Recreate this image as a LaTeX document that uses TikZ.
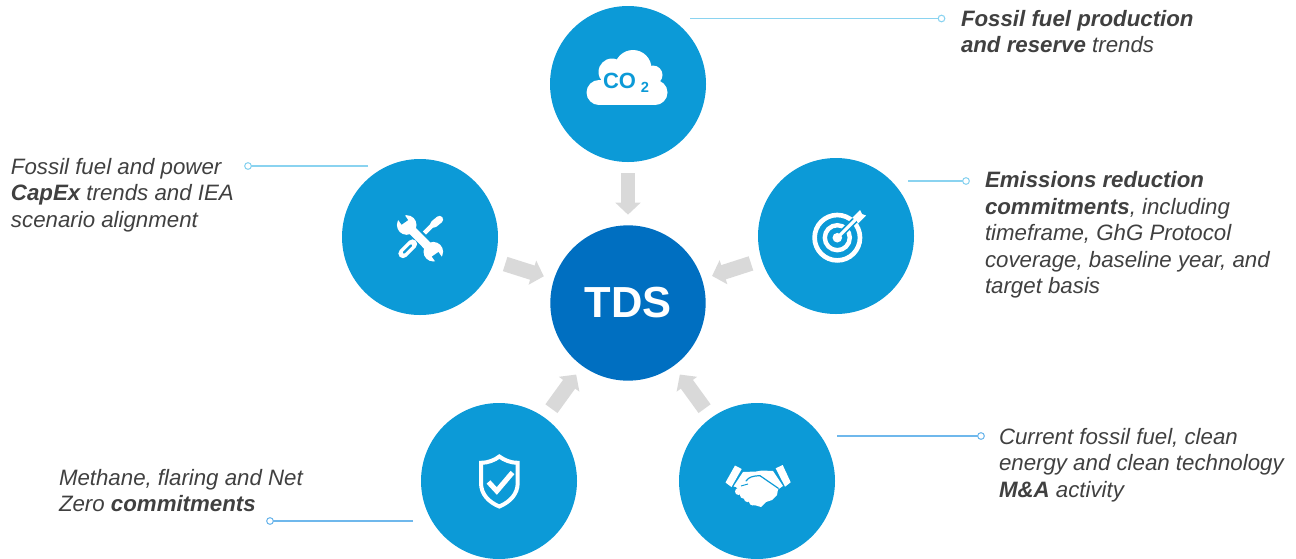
\documentclass[tikz,border=0pt]{standalone}
\usepackage{fontspec}
\setmainfont{Liberation Sans}
\usetikzlibrary{arrows.meta}
\definecolor{hubblue}{HTML}{006FC1}
\definecolor{satblue}{HTML}{0C9AD7}
\definecolor{arrowgrey}{HTML}{D9D9D9}
\definecolor{labelgrey}{HTML}{404040}
\definecolor{leadA}{HTML}{8AD3F0}
\definecolor{leadB}{HTML}{6FB8EC}
\newcommand{\bi}[1]{\textbf{#1}}
\tikzset{
  sat/.style={circle,fill=satblue,minimum size=117pt,inner sep=0pt,outer sep=0pt},
  hub/.style={circle,fill=hubblue,minimum size=116.5pt,inner sep=0pt,outer sep=0pt,text=white,
     font=\fontsize{32.6pt}{36pt}\selectfont\bfseries},
  feed/.style={arrowgrey,line width=11.2pt,-{Triangle[length=9pt,width=18.5pt]},shorten >=8pt,shorten <=8.5pt},
  lab/.style={anchor=north west,inner sep=0pt,outer sep=0pt,align=left,text=labelgrey,
     font=\fontsize{16.7pt}{19.9pt}\selectfont\itshape},
  dot/.style={circle,draw=#1,fill=white,line width=0.8pt,minimum size=5pt,inner sep=0pt,outer sep=0pt},
  lead/.style={draw=#1,line width=0.8pt},
  icol/.style={draw=white,line cap=round,line join=round},
}
\begin{document}
\begin{tikzpicture}[x=0.75pt,y=-0.75pt]
\useasboundingbox (0,0) rectangle (1296,558);
% circles
\node[hub] (tds) at (628,303) {TDS};
\node[sat] (top) at (628,84) {};
\node[sat] (lft) at (420,237) {};
\node[sat] (rgt) at (836,236) {};
\node[sat] (bl) at (499,481) {};
\node[sat] (br) at (757,481) {};
% feed arrows
\draw[feed] (top) -- (tds);
\draw[feed] (lft) -- (tds);
\draw[feed] (rgt) -- (tds);
\draw[feed] (bl) -- (tds);
\draw[feed] (br) -- (tds);
% leaders
\coordinate (ltop) at (690,18.5);
\node[dot=leadA] (dtop) at (941.5,18.5) {};
\draw[lead=leadA] (ltop) -- (dtop);
\coordinate (llft) at (368,166);
\node[dot=leadA] (dlft) at (248,166) {};
\draw[lead=leadA] (llft) -- (dlft);
\coordinate (lrgt) at (908,181);
\node[dot=leadA] (drgt) at (966,181) {};
\draw[lead=leadA] (lrgt) -- (drgt);
\coordinate (lbl) at (413,521);
\node[dot=leadB] (dbl) at (270,521) {};
\draw[lead=leadB] (lbl) -- (dbl);
\coordinate (lbr) at (837,436);
\node[dot=leadB] (dbr) at (981,436) {};
\draw[lead=leadB] (lbr) -- (dbr);
% labels
\node[lab] (ttop) at (961,7.5) {\strut\bi{Fossil fuel production}\\\bi{and reserve} trends};
\node[lab] (tlft) at (11,155.5) {\strut Fossil fuel and power\\\bi{CapEx} trends and IEA\\scenario alignment};
\node[lab] (trgt) at (985,169) {\strut\bi{Emissions reduction}\\\bi{commitments}, including\\timeframe, GhG Protocol\\coverage, baseline year, and\\target basis};
\node[lab] (tbl) at (59,466.5) {\strut Methane, flaring and Net\\Zero \bi{commitments}};
\node[lab] (tbr) at (999,425.5) {\strut Current fossil fuel, clean\\energy and clean technology\\\bi{M\&A} activity};
% cloud icon
\fill[white] (612,72) circle (13.5);
\fill[white] (633,68.5) circle (18.5);
\fill[white] (653,75) circle (9.5);
\fill[white] (655,92.5) circle (12.5);
\fill[white] (599,92.5) circle (12.5);
\fill[white] (599,80) rectangle (655,105);
\fill[white] (606,70) rectangle (650,85);
\node[text=satblue,inner sep=0pt,font=\fontsize{16.5pt}{18pt}\selectfont\bfseries] (co) at (619.5,80.5) {CO};
\node[text=satblue,inner sep=0pt,font=\fontsize{11pt}{12pt}\selectfont\bfseries] (two) at (645,87.5) {2};
% tools icon
\draw[white,line width=7pt,line cap=round] (412.5,244) -- (403,253.5);
\draw[satblue,line width=1.8pt,line cap=round] (411,245.5) -- (404,252.5);
\draw[white,line width=3.2pt] (424.5,233) -- (433,224.5);
\draw[white,line width=5.5pt,line cap=round] (434,224) -- (439.5,219.5);
\draw[white,line width=6.5pt] (406.7,225) -- (433.3,251.7);
\fill[white] (406.7,225) circle (9.8);
\fill[white] (433.3,251.7) circle (9.8);
\fill[satblue,rotate around={-55:(406.7,225)}] (392,221) rectangle (403.5,229);
\fill[satblue,rotate around={-55:(433.3,251.7)}] (436.5,247.7) rectangle (448,255.7);
% target icon
\draw[white,line width=3.5pt] (837.3,237.7) circle (22.7);
\draw[white,line width=3.3pt] (837.3,237.7) circle (12.5);
\fill[white] (837.3,237.7) circle (4.8);
\draw[satblue,line width=5pt] (841,234) -- (856,219);
\draw[white,line width=2.4pt] (837.3,237.7) -- (857,218);
\fill[white] (852,218) -- (860,210) -- (862,214) -- (866,215.5) -- (858,223.5) -- (856,219.5) -- cycle;
% shield icon
\draw[icol,line width=3pt,line join=miter] (499.3,456.5) .. controls (504,460) and (511,463) .. (517.7,462.8)
  -- (517.7,483) .. controls (517.7,494) and (510,502) .. (499.3,506.5)
  .. controls (488.5,502) and (481,494) .. (481,483) -- (481,462.8)
  .. controls (487.5,463) and (495,460) .. (499.3,456.5) -- cycle;
\draw[icol,line width=3.8pt,line cap=butt,line join=miter] (488.5,482) -- (496.8,491) -- (512.5,472.5);
% handshake icon
\fill[white] (735,465.5) -- (741.7,469) -- (731.5,487) -- (725.5,482.5) -- cycle;
\fill[white] (775.7,468.3) -- (782.7,465) -- (790.7,482.3) -- (785,486.7) -- cycle;
\fill[white] (743,472) -- (756,471.5) -- (762,470.5) -- (773,471) -- (783,486) -- (778,489.5)
  -- (777,495) -- (772,500) -- (766,502) -- (761,507) -- (756,505.5) -- (752,505) -- (745,497)
  -- (736,487) -- (733.5,486.5) -- cycle;
\fill[white] (738.5,491.5) circle (3.5);
\fill[white] (743.5,495) circle (3.6);
\fill[white] (747.5,498.5) circle (3.6);
\fill[white] (752.5,502) circle (3.4);
\draw[satblue,line width=0.9pt,line cap=round] (746,481) .. controls (749,477) and (752,476) .. (760,475.7)
  -- (778.3,488.3);
\draw[satblue,line width=0.7pt] (741,486) -- (748,484);
\end{tikzpicture}
\end{document}
